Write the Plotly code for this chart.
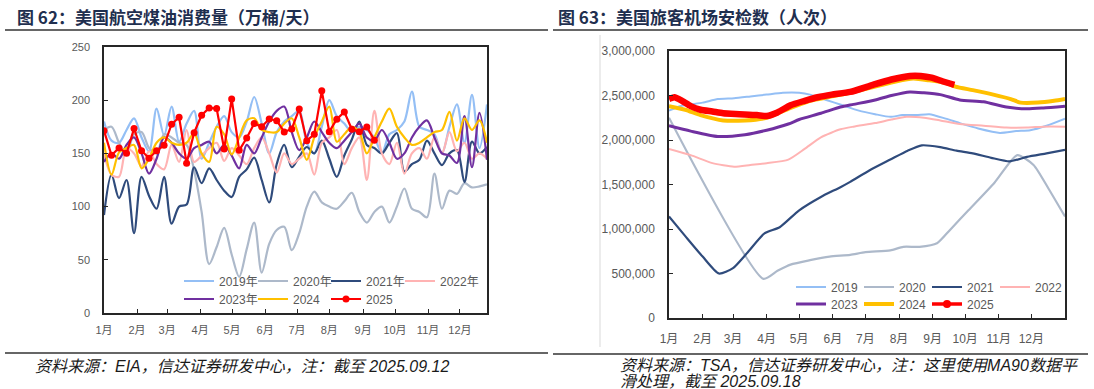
import plotly.graph_objects as go

W, H = 1094, 389

# ---------------- Left chart: US jet fuel consumption (10k bbl/day), weekly ----------------
week_idx = list(range(52))
jet_2019 = [180, 162, 160, 172, 183, 165, 152, 192, 167, 194, 161, 178, 190, 145, 160, 175, 185, 170,
            165, 180, 203, 178, 150, 170, 180, 185, 190, 160, 150, 175, 200, 185, 178, 170, 175, 172,
            165, 150, 168, 172, 180, 208, 175, 172, 168, 150, 175, 196, 160, 205, 155, 196]
jet_2020 = [172, 175, 160, 150, 168, 170, 155, 150, 168, 165, 160, 158, 134, 95, 46, 62, 80, 55,
            34, 60, 85, 38, 65, 78, 81, 59, 75, 100, 114, 104, 100, 98, 105, 113, 95, 85,
            95, 100, 85, 100, 117, 98, 95, 90, 131, 98, 115, 112, 122, 118, 119, 121]
jet_2021 = [92, 130, 108, 125, 75, 128, 110, 98, 128, 84, 100, 102, 137, 122, 136, 125, 115, 109,
            128, 135, 146, 125, 104, 140, 158, 137, 147, 156, 150, 162, 145, 128, 148, 163, 180, 158,
            155, 150, 160, 169, 133, 140, 144, 162, 150, 139, 150, 153, 123, 161, 150, 156]
jet_2022 = [150, 130, 128, 155, 150, 138, 152, 140, 135, 158, 142, 172, 142, 148, 155, 160, 143, 155,
            148, 140, 155, 165, 150, 132, 150, 140, 145, 150, 130, 160, 165, 172, 140, 155, 165, 125,
            190, 150, 140, 160, 131, 150, 155, 145, 165, 150, 170, 152, 160, 145, 150, 145]
jet_2023 = [142, 150, 145, 158, 165, 150, 131, 145, 165, 160, 150, 145, 155, 158, 161, 150, 158, 148,
            136, 158, 150, 165, 180, 190, 194, 170, 153, 165, 180, 170, 160, 155, 162, 170, 178, 165,
            162, 172, 160, 145, 150, 165, 175, 181, 165, 150, 148, 141, 185, 137, 188, 144]
jet_2024 = [160, 130, 151, 155, 158, 136, 145, 160, 165, 160, 158, 160, 169, 150, 142, 175, 168, 149,
            165, 181, 183, 172, 170, 170, 178, 183, 165, 144, 165, 180, 194, 161, 168, 175, 170, 150,
            165, 180, 192, 175, 165, 158, 160, 165, 170, 172, 189, 162, 183, 172, 181, 160]
jet_2025 = [171.4, 148.2, 155.1, 150.1, 173.3, 152.5, 145.4, 152.5, 157.6, 177.4, 184.0, 140.7,
            169.5, 185.9, 192.7, 192.1, 154.1, 201.2, 152.9, 164.5, 178.0, 175.1, 182.4, 180.8,
            170.2, 173.0, 191.8, 162.0, 168.0, 208.8, 170.4, 182.1, 189.0, 172.7, 170.4, 174.9, 162.3]
left_tick_pos = [0, 4.4, 8.4, 12.8, 17.05, 21.45, 25.7, 30.0, 34.5, 38.75, 43.15, 47.4]
month_labels = ["1月", "2月", "3月", "4月", "5月", "6月", "7月", "8月", "9月", "10月", "11月", "12月"]
left_names = ["2019年", "2020年", "2021年", "2022年", "2023年", "2024", "2025"]

# ---------------- Right chart: TSA checkpoint numbers (MA90), day of year ----------------
d2019 = [0, 10, 20, 31, 45, 60, 75, 90, 105, 120, 130, 145, 160, 175, 190, 204, 215, 228, 240, 255,
         268, 285, 305, 320, 333, 348, 365]
v2019 = [2.33, 2.38, 2.40, 2.42, 2.46, 2.47, 2.49, 2.51, 2.53, 2.53, 2.51, 2.45, 2.39, 2.33, 2.29,
         2.26, 2.28, 2.28, 2.29, 2.24, 2.19, 2.13, 2.08, 2.10, 2.11, 2.16, 2.24]
d2020 = [0, 87, 100, 112, 130, 148, 167, 181, 204, 216, 231, 247, 259, 276, 300, 321, 336, 350, 365]
v2020 = [2.25, 0.44, 0.53, 0.60, 0.65, 0.69, 0.71, 0.74, 0.76, 0.80, 0.80, 0.84, 0.99, 1.21, 1.52,
         1.83, 1.72, 1.45, 1.14]
d2021 = [0, 15, 31, 46, 59, 72, 88, 102, 120, 140, 158, 167, 185, 204, 220, 233, 250, 265, 280, 297,
         314, 330, 348, 365]
v2021 = [1.14, 0.92, 0.69, 0.50, 0.56, 0.73, 0.95, 1.02, 1.21, 1.36, 1.47, 1.53, 1.66, 1.78, 1.88,
         1.94, 1.92, 1.88, 1.85, 1.80, 1.76, 1.81, 1.85, 1.89]
d2022 = [0, 20, 40, 60, 75, 90, 110, 125, 140, 158, 170, 190, 205, 219, 235, 250, 268, 290, 311, 330,
         345, 365]
v2022 = [1.90, 1.83, 1.74, 1.70, 1.72, 1.74, 1.78, 1.90, 2.03, 2.12, 2.15, 2.19, 2.23, 2.26, 2.25,
         2.22, 2.18, 2.16, 2.14, 2.14, 2.15, 2.15]
d2023 = [0, 20, 45, 70, 90, 110, 120, 140, 158, 170, 190, 205, 222, 235, 250, 268, 290, 311, 330, 345,
         365]
v2023 = [2.16, 2.10, 2.04, 2.06, 2.11, 2.18, 2.23, 2.30, 2.37, 2.40, 2.45, 2.50, 2.54, 2.53, 2.51,
         2.45, 2.43, 2.37, 2.35, 2.36, 2.38]
d2024 = [0, 15, 29, 50, 70, 90, 110, 130, 150, 170, 190, 210, 225, 240, 255, 264, 280, 299, 315, 324,
         340, 355, 365]
v2024 = [2.38, 2.34, 2.28, 2.22, 2.22, 2.25, 2.35, 2.44, 2.49, 2.54, 2.60, 2.66, 2.69, 2.67, 2.64,
         2.60, 2.56, 2.51, 2.46, 2.42, 2.42, 2.44, 2.46]
d2025 = [0, 5, 12, 20, 29, 40, 50, 65, 81, 90, 100, 112, 125, 137, 150, 167, 188, 205, 222, 232, 242,
         252, 263]
v2025 = [2.46, 2.48, 2.44, 2.38, 2.34, 2.32, 2.30, 2.29, 2.28, 2.27, 2.31, 2.39, 2.44, 2.48, 2.51,
         2.54, 2.62, 2.68, 2.72, 2.72, 2.70, 2.66, 2.62]
right_tick_pos = [0, 31, 59, 90, 120, 151, 181, 212, 243, 273, 304, 334]
right_names = ["2019", "2020", "2021", "2022", "2023", "2024", "2025"]

colors = ["#94BFF5", "#ADB9CA", "#2F4B7C", "#FFB3B3", "#7030A0", "#FFC000", "#FF0000"]

# legend item anchors (page pixels): left edge of each legend entry, row centre
left_leg_x = [179, 253, 326, 400, 179, 253, 326]
left_leg_y = [281, 281, 281, 281, 299, 299, 299]
right_leg_x = [791, 859, 927, 995, 791, 859, 927]
right_leg_y = [287, 287, 287, 287, 304, 304, 304]

fig = go.Figure()

left_series = [jet_2019, jet_2020, jet_2021, jet_2022, jet_2023, jet_2024]
for i, ys in enumerate(left_series):
    fig.add_trace(go.Scatter(
        x=week_idx[:len(ys)], y=ys, name=left_names[i], mode="lines",
        line=dict(color=colors[i], width=2.2, shape="spline", smoothing=0.9),
        xaxis="x", yaxis="y", legend="legend" if i == 0 else f"legend{i + 1}"))
fig.add_trace(go.Scatter(
    x=week_idx[:len(jet_2025)], y=jet_2025, name=left_names[6], mode="lines+markers",
    line=dict(color=colors[6], width=2.2), marker=dict(color=colors[6], size=7),
    xaxis="x", yaxis="y", legend="legend7"))

right_days = [d2019, d2020, d2021, d2022, d2023, d2024]
right_vals = [v2019, v2020, v2021, v2022, v2023, v2024]
right_widths = [2, 2.2, 2.2, 2, 3, 4]
for i in range(6):
    fig.add_trace(go.Scatter(
        x=right_days[i], y=[v * 1e6 for v in right_vals[i]], name=right_names[i], mode="lines",
        line=dict(color=colors[i], width=right_widths[i], shape="spline", smoothing=0.6),
        xaxis="x2", yaxis="y2", legend=f"legend{i + 8}"))
fig.add_trace(go.Scatter(
    x=d2025, y=[v * 1e6 for v in v2025], name=right_names[6], mode="lines",
    line=dict(color=colors[6], width=6.5, shape="spline", smoothing=0.6),
    xaxis="x2", yaxis="y2", showlegend=False))
# legend entry for 2025 (line with marker, as in the original legend)
fig.add_trace(go.Scatter(
    x=[None], y=[None], name=right_names[6], mode="lines+markers",
    line=dict(color=colors[6], width=3.5), marker=dict(color=colors[6], size=8),
    xaxis="x2", yaxis="y2", legend="legend14"))

tick_font = dict(family="Liberation Sans, Noto Sans CJK SC", size=11, color="#595959")
tick_font_r = dict(family="Liberation Sans, Noto Sans CJK SC", size=12, color="#595959")
axis_common = dict(showgrid=False, zeroline=False, showline=True, mirror=True,
                   linecolor="#262626", linewidth=1.5, ticks="inside", ticklen=4,
                   tickcolor="#262626", tickwidth=1)

legend_common = dict(orientation="h", xanchor="left", yanchor="middle", bgcolor="rgba(0,0,0,0)",
                     font=dict(family="Liberation Sans, Noto Sans CJK SC", size=12, color="#595959"),
                     itemwidth=30)

legends = {}
for k in range(7):
    key = "legend" if k == 0 else f"legend{k + 1}"
    legends[key] = dict(x=left_leg_x[k] / W, y=1 - left_leg_y[k] / H, **legend_common)
for k in range(7):
    legends[f"legend{k + 8}"] = dict(x=right_leg_x[k] / W, y=1 - right_leg_y[k] / H, **legend_common)

fig.update_layout(
    width=W, height=H, margin=dict(l=0, r=0, t=0, b=0, autoexpand=False),
    paper_bgcolor="white", plot_bgcolor="white",
    xaxis=dict(domain=[104 / W, 487 / W], range=[0, 51], tickvals=left_tick_pos,
               ticktext=month_labels, tickfont=tick_font, ticklabelstandoff=6, anchor="y",
               **axis_common),
    yaxis=dict(domain=[1 - 313 / H, 1 - 47 / H], range=[0, 250], tickvals=[0, 50, 100, 150, 200, 250],
               tickfont=tick_font, ticklabelstandoff=10, anchor="x", **axis_common),
    xaxis2=dict(domain=[669 / W, 1065 / W], range=[0, 365], tickvals=right_tick_pos,
                ticktext=month_labels, tickfont=tick_font_r, ticklabelstandoff=9, anchor="y2",
                **axis_common),
    yaxis2=dict(domain=[1 - 318 / H, 1 - 51 / H], range=[0, 3e6],
                tickvals=[0, 5e5, 1e6, 1.5e6, 2e6, 2.5e6, 3e6], tickformat=",d",
                tickfont=tick_font_r, ticklabelstandoff=10, anchor="x2", **axis_common),
    showlegend=True,
    **legends,
)

title_font = dict(family="Noto Sans CJK SC", size=17, color="#1F2F4F", weight="bold")
foot_font = dict(family="Liberation Sans, Noto Sans CJK SC", size=16, color="#1A1A1A", style="italic")
fig.add_annotation(text="图 62：美国航空煤油消费量（万桶/天）", x=15 / W, y=1 - 17 / H, xref="paper",
                   yref="paper", xanchor="left", yanchor="middle", showarrow=False, font=title_font)
fig.add_annotation(text="图 63：美国旅客机场安检数（人次）", x=556 / W, y=1 - 17 / H, xref="paper",
                   yref="paper", xanchor="left", yanchor="middle", showarrow=False, font=title_font)
fig.add_annotation(text="资料来源：EIA，信达证券研发中心，注：截至 2025.09.12", x=33 / W, y=1 - 366 / H,
                   xref="paper", yref="paper", xanchor="left", yanchor="middle", showarrow=False,
                   font=foot_font)
fig.add_annotation(text="资料来源：TSA，信达证券研发中心，注：这里使用MA90数据平",
                   x=618 / W, y=1 - 365 / H, xref="paper", yref="paper", xanchor="left",
                   yanchor="middle", showarrow=False, font=foot_font)
fig.add_annotation(text="滑处理，截至 2025.09.18",
                   x=618 / W, y=1 - 381 / H, xref="paper", yref="paper", xanchor="left",
                   yanchor="middle", showarrow=False, font=foot_font)

line_style = dict(color="#333333", width=1.5)
for x0, x1, y in [(5, 548, 30), (553, 1088, 30), (5, 548, 353), (553, 1088, 354)]:
    fig.add_shape(type="line", xref="paper", yref="paper", x0=x0 / W, x1=x1 / W,
                  y0=1 - y / H, y1=1 - y / H, line=line_style)
fig.add_shape(type="line", xref="paper", yref="paper", x0=600 / W, x1=600 / W,
              y0=1 - 35 / H, y1=1 - 347 / H, line=dict(color="#D9D9D9", width=1))

fig.write_html("out.html", config={"displayModeBar": False},
               post_script="document.body.style.margin='0px';")
